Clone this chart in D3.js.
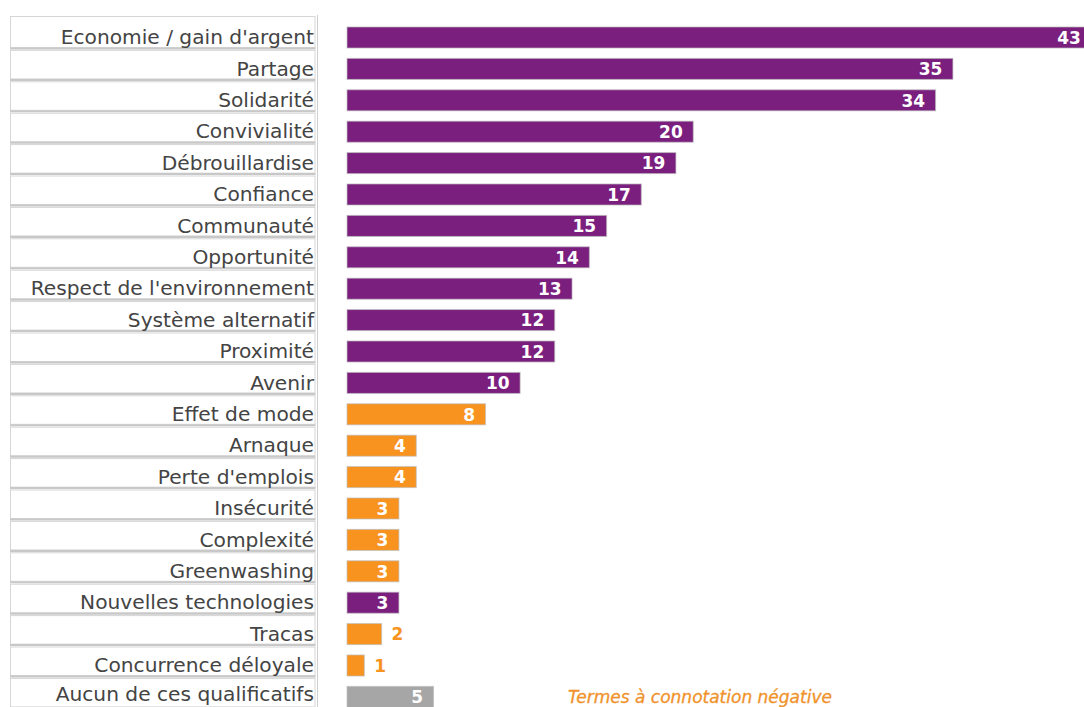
<!DOCTYPE html>
<html>
<head>
<meta charset="utf-8">
<script src="https://cdn.jsdelivr.net/npm/d3@7"></script>
<style>
  html, body { margin: 0; padding: 0; background: #fff; }
  svg { display: block; }
</style>
</head>
<body>
<svg id="chart" width="1084" height="707"></svg>
<script>
const categories = [
  "Economie / gain d'argent", "Partage", "Solidarité", "Convivialité",
  "Débrouillardise", "Confiance", "Communauté", "Opportunité",
  "Respect de l'environnement", "Système alternatif", "Proximité", "Avenir",
  "Effet de mode", "Arnaque", "Perte d'emplois", "Insécurité", "Complexité",
  "Greenwashing", "Nouvelles technologies", "Tracas", "Concurrence déloyale",
  "Aucun de ces qualificatifs"
];
const values = [43, 35, 34, 20, 19, 17, 15, 14, 13, 12, 12, 10, 8, 4, 4, 3, 3, 3, 3, 2, 1, 5];
// connotation group per category: "pos", "neg", "none"
const groups = [
  "pos","pos","pos","pos","pos","pos","pos","pos","pos","pos","pos","pos",
  "neg","neg","neg","neg","neg","neg","pos","neg","neg","none"
];
const legendText = "Termes à connotation négative";

const colors = { pos: "#7b1f7e", neg: "#f7931e", none: "#a6a6a6" };

const svg = d3.select("#chart");
const data = categories.map((c, i) => ({ cat: c, value: values[i], group: groups[i] }));

const x = d3.scaleLinear().domain([0, 43]).range([347, 1091.4]);
const y = d3.scaleBand().domain(categories).range([21.8, 712.6])
  .paddingInner(0.33).paddingOuter(0.165);

const cy = d => y(d.cat) + y.bandwidth() / 2;
const lastCat = categories[categories.length - 1];

// label boxes
const boxes = svg.append("g");
boxes.selectAll("rect.box").data(data).join("rect")
  .attr("class", "box")
  .attr("x", 10.5)
  .attr("y", d => (d.cat === categories[0] ? cy(d) - 21 : cy(d) - 18.5))
  .attr("width", 304.5)
  .attr("height", d => (d.cat === categories[0] ? 31 : 28.5))
  .attr("fill", "#fff")
  .attr("stroke", "#d6d6d6")
  .attr("stroke-width", 1);
boxes.selectAll("line.shadow").data(data).join("line")
  .attr("class", "shadow")
  .attr("x1", 10).attr("x2", 315.5)
  .attr("y1", d => cy(d) + 11).attr("y2", d => cy(d) + 11)
  .attr("stroke", "#c8c8c8").attr("stroke-width", 2);

svg.append("line")
  .attr("x1", 317.5).attr("x2", 317.5).attr("y1", 15).attr("y2", 707)
  .attr("stroke", "#cfcfcf").attr("stroke-width", 1);

boxes.selectAll("text").data(data).join("text")
  .attr("x", 314)
  .attr("y", d => d.cat === lastCat ? cy(d) - 2.5 : cy(d))
  .attr("dy", "0.33em")
  .attr("text-anchor", "end")
  .attr("font-family", "DejaVu Sans, Verdana, sans-serif")
  .attr("font-size", 20.2)
  .attr("fill", "#444")
  .text(d => d.cat);

// bars
svg.append("g").selectAll("rect").data(data).join("rect")
  .attr("x", x(0))
  .attr("y", d => y(d.cat))
  .attr("width", d => x(d.value) - x(0))
  .attr("height", y.bandwidth())
  .attr("fill", d => colors[d.group])
  .attr("stroke", "#bdbdbd")
  .attr("stroke-opacity", 0.7)
  .attr("stroke-width", 1);

// value labels
svg.append("g").selectAll("text").data(data).join("text")
  .attr("x", d => d.value < 3 ? x(d.value) + 10 : x(d.value) - 10.5)
  .attr("y", d => cy(d))
  .attr("dy", "0.37em")
  .attr("text-anchor", d => d.value < 3 ? "start" : "end")
  .attr("font-family", "DejaVu Sans, Verdana, sans-serif")
  .attr("font-weight", "bold")
  .attr("font-size", 17)
  .attr("fill", d => d.value < 3 ? colors[d.group] : "#fff")
  .text(d => d.value);

// legend note
svg.append("text")
  .attr("x", 568)
  .attr("y", cy(data[data.length - 1]))
  .attr("dy", "0.36em")
  .attr("font-family", "DejaVu Sans, Verdana, sans-serif")
  .attr("font-style", "italic")
  .attr("font-size", 17)
  .attr("fill", "#f0922a")
  .attr("stroke", "#f0922a")
  .attr("stroke-width", 0.3)
  .text(legendText);
</script>
</body>
</html>
